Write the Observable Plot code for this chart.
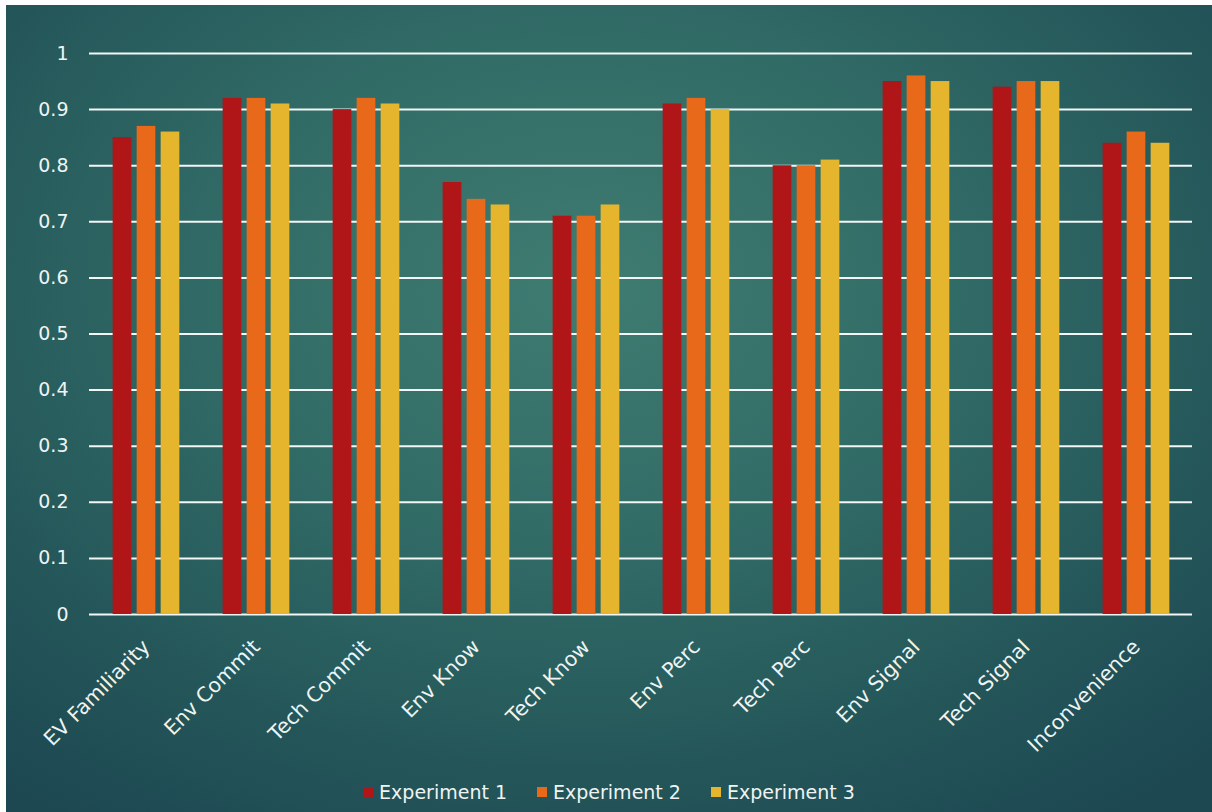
<!DOCTYPE html>
<html>
<head>
<meta charset="utf-8">
<script src="https://cdn.jsdelivr.net/npm/d3@7"></script>
<script src="https://cdn.jsdelivr.net/npm/@observablehq/plot@0.6"></script>
<style>
  html, body { margin: 0; padding: 0; background: #ffffff; }
  #card {
    position: absolute; left: 6px; top: 5px; width: 1206px; height: 807px;
    background: radial-gradient(ellipse 75% 80% at 48% 35%, #3f7c71 0%, #316b66 40%, #245659 75%, #1d4852 100%);
    font-family: "DejaVu Sans", sans-serif;
  }
  #chart svg { display: block; }
  #legend {
    position: absolute; left: 0; top: 776px; width: 1206px;
    display: flex; justify-content: center; gap: 30px;
    color: #eef4f3; font-size: 19px; font-family: "DejaVu Sans", sans-serif;
  }
  .item { display: flex; align-items: center; gap: 6px; }
  .sw { width: 10px; height: 10px; display: inline-block; }
</style>
</head>
<body>
<div id="card">
  <div id="chart"></div>
  <div id="legend"></div>
</div>
<script>
// Mean scores per construct across three experiments
const categories = ["EV Familiarity", "Env Commit", "Tech Commit", "Env Know", "Tech Know",
                    "Env Perc", "Tech Perc", "Env Signal", "Tech Signal", "Inconvenience"];
const seriesNames = ["Experiment 1", "Experiment 2", "Experiment 3"];
const experiment1 = [0.85, 0.92, 0.90, 0.77, 0.71, 0.91, 0.80, 0.95, 0.94, 0.84];
const experiment2 = [0.87, 0.92, 0.92, 0.74, 0.71, 0.92, 0.80, 0.96, 0.95, 0.86];
const experiment3 = [0.86, 0.91, 0.91, 0.73, 0.73, 0.90, 0.81, 0.95, 0.95, 0.84];
const yTicks = [0, 0.1, 0.2, 0.3, 0.4, 0.5, 0.6, 0.7, 0.8, 0.9, 1];
const colors = ["#b01618", "#e8691a", "#e5b52d"];

const seriesValues = [experiment1, experiment2, experiment3];
const rows = seriesNames.flatMap((s, i) =>
  categories.map((c, j) => ({category: c, series: s, value: seriesValues[i][j]})));

const width = 1206, height = 735;
const marginLeft = 83, marginRight = 20, marginTop = 48, marginBottom = 126;
const band = (width - marginLeft - marginRight) / categories.length;
const barW = 19, barStep = 24;
const inset = (band - barW) / 2;
const textColor = "#eef4f3";

const barMarks = seriesNames.map((s, i) =>
  Plot.barY(rows.filter(d => d.series === s), {
    x: "category", y: "value", fill: colors[i],
    insetLeft: inset, insetRight: inset, dx: (i - 1) * barStep
  }));

const chart = Plot.plot({
  width, height, marginLeft, marginRight, marginTop, marginBottom,
  style: {background: "transparent", color: textColor, fontFamily: "'DejaVu Sans', sans-serif", fontSize: "19px", overflow: "visible"},
  x: {domain: categories, padding: 0, label: null},
  y: {domain: [0, 1], label: null},
  marks: [
    Plot.ruleY(yTicks, {stroke: "#f2f7f6", strokeWidth: 2}),
    ...barMarks,
    Plot.axisY(yTicks, {tickSize: 0, tickPadding: 21, tickFormat: d => String(+d.toFixed(1)),
                        fill: textColor, fontSize: 19, label: null}),
    Plot.axisX({tickSize: 0, tickPadding: 29, tickRotate: -45, fill: textColor, fontSize: 20.5, label: null})
  ]
});
document.getElementById("chart").append(chart);

const legend = document.getElementById("legend");
seriesNames.forEach((s, i) => {
  const item = document.createElement("div");
  item.className = "item";
  const sw = document.createElement("span");
  sw.className = "sw";
  sw.style.background = colors[i];
  const label = document.createElement("span");
  label.textContent = s;
  item.append(sw, label);
  legend.append(item);
});
</script>
</body>
</html>
